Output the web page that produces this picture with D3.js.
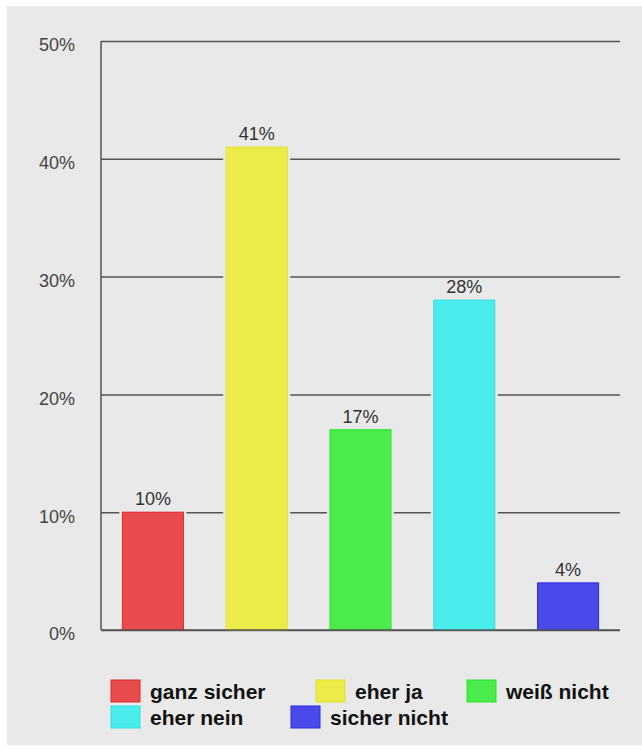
<!DOCTYPE html>
<html>
<head>
<meta charset="utf-8">
<script src="https://cdn.jsdelivr.net/npm/d3@7"></script>
<style>
  html, body { margin: 0; padding: 0; background: #ffffff; }
  svg { display: block; }
</style>
</head>
<body>
<svg id="chart" width="642" height="750"></svg>
<script>
// Survey answers and their shares (percent)
const categories = ["ganz sicher", "eher ja", "weiß nicht", "eher nein", "sicher nicht"];
const values = [10, 41, 17, 28, 4];
const colors = ["#e84b4b", "#ebeb4a", "#4aeb4a", "#4aebeb", "#4a4aeb"];
const strokeColors = ["#e02a2a", "#e4e42a", "#2ae42a", "#2ae4e4", "#2a2ae4"];
const yTicks = [0, 10, 20, 30, 40, 50];

const bg = "#e9e9e9";
const svg = d3.select("#chart");

// panel background
svg.append("rect")
  .attr("x", 7).attr("y", 6)
  .attr("width", 642 - 7).attr("height", 745 - 6)
  .attr("fill", bg);

const plot = { left: 101, right: 620, top: 41, bottom: 630 };

const x = d3.scaleBand()
  .domain(categories)
  .range([plot.left, plot.right])
  .paddingInner(0.412)
  .paddingOuter(0.206);

const y = d3.scaleLinear()
  .domain([0, 50])
  .range([plot.bottom, plot.top]);

// horizontal grid lines and left axis
const yAxis = d3.axisLeft(y)
  .tickValues(yTicks)
  .tickFormat(d => d + "%")
  .tickSize(-(plot.right - plot.left))
  .tickPadding(26);

const gAxis = svg.append("g")
  .attr("transform", `translate(${plot.left},0)`)
  .call(yAxis);

gAxis.select(".domain")
  .attr("d", `M0,${plot.top}V${plot.bottom}`)
  .attr("stroke", "#555")
  .attr("stroke-width", 1.5);

gAxis.selectAll(".tick line")
  .attr("stroke", "#555")
  .attr("stroke-width", 1.5);

gAxis.selectAll(".tick text")
  .attr("fill", "#444")
  .attr("font-family", "Liberation Sans, Arial, sans-serif")
  .attr("font-size", 18)
  .attr("dy", "0.55em");

// bars: a background-coloured halo breaks the grid lines around each bar
const bars = svg.append("g");
const data = categories.map((c, i) => ({ c, v: values[i], i }));

bars.selectAll("rect.halo")
  .data(data)
  .join("rect")
  .attr("class", "halo")
  .attr("x", d => x(d.c) - 3)
  .attr("width", x.bandwidth() + 6)
  .attr("y", d => y(d.v) - 3)
  .attr("height", d => y(0) - y(d.v) + 2)
  .attr("fill", bg);

bars.selectAll("rect.bar")
  .data(data)
  .join("rect")
  .attr("class", "bar")
  .attr("x", d => x(d.c))
  .attr("width", x.bandwidth())
  .attr("y", d => y(d.v))
  .attr("height", d => y(0) - y(d.v))
  .attr("fill", d => colors[d.i])
  .attr("stroke", d => strokeColors[d.i])
  .attr("stroke-width", 1);

// baseline over the bars
svg.append("line")
  .attr("x1", plot.left).attr("x2", plot.right)
  .attr("y1", y(0)).attr("y2", y(0))
  .attr("stroke", "#555").attr("stroke-width", 1.5);

// value labels
svg.append("g").selectAll("text")
  .data(data)
  .join("text")
  .attr("x", d => x(d.c) + x.bandwidth() / 2)
  .attr("y", d => y(d.v) - 7)
  .attr("text-anchor", "middle")
  .attr("fill", "#333")
  .attr("font-family", "Liberation Sans, Arial, sans-serif")
  .attr("font-size", 18)
  .text(d => d.v + "%");

// legend, two rows
const legendPos = [
  { x: 111, y: 680 }, { x: 316, y: 680 }, { x: 467, y: 680 },
  { x: 111, y: 706 }, { x: 291, y: 706 }
];

const legend = svg.append("g").selectAll("g")
  .data(data)
  .join("g")
  .attr("transform", d => `translate(${legendPos[d.i].x},${legendPos[d.i].y})`);

legend.append("rect")
  .attr("width", 29).attr("height", 22)
  .attr("fill", d => colors[d.i])
  .attr("stroke", d => strokeColors[d.i])
  .attr("stroke-width", 1);

legend.append("text")
  .attr("x", 39)
  .attr("y", 11)
  .attr("dy", "0.36em")
  .attr("fill", "#111")
  .attr("font-family", "Liberation Sans, Arial, sans-serif")
  .attr("font-weight", "bold")
  .attr("font-size", 21)
  .text(d => d.c);
</script>
</body>
</html>
